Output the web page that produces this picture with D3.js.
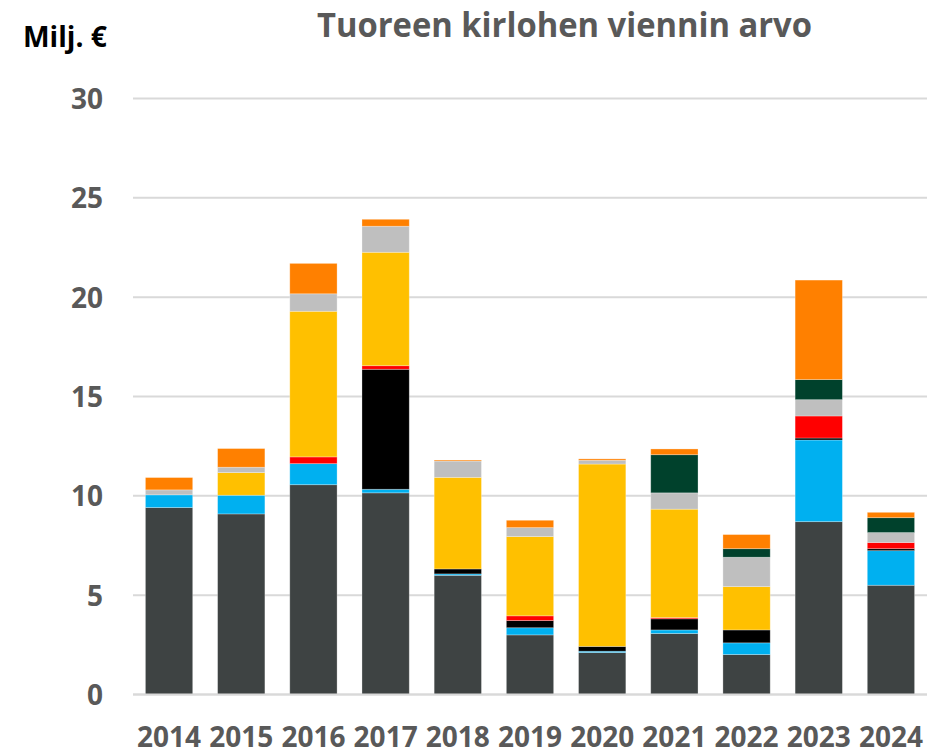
<!DOCTYPE html>
<html>
<head>
<meta charset="utf-8">
<script src="https://cdn.jsdelivr.net/npm/d3@7"></script>
<style>
  html, body { margin: 0; padding: 0; background: #fff; }
  svg { display: block; font-family: "Open Sans", "DejaVu Sans", sans-serif; }
</style>
</head>
<body>
<svg id="chart" width="947" height="752"></svg>
<script>
// ---- data (Milj. €) ----
const years = ["2014","2015","2016","2017","2018","2019","2020","2021","2022","2023","2024"];
const seriesNames = ["Sarja 1","Sarja 2","Sarja 3","Sarja 4","Sarja 5","Sarja 6","Sarja 7","Sarja 8"];
const seriesColors = ["#3E4343","#00B0F0","#000000","#FF0000","#FFC000","#BFBFBF","#00412C","#FF8000"];
const s1 = [9.41, 9.09, 10.56, 10.15, 6.00, 3.00, 2.11, 3.07, 2.01, 8.70, 5.50];
const s2 = [0.64, 0.94, 1.06, 0.18, 0.07, 0.36, 0.07, 0.18, 0.59, 4.11, 1.74];
const s3 = [0.00, 0.00, 0.00, 6.04, 0.25, 0.36, 0.24, 0.56, 0.65, 0.10, 0.10];
const s4 = [0.00, 0.00, 0.34, 0.18, 0.00, 0.24, 0.00, 0.06, 0.00, 1.11, 0.31];
const s5 = [0.00, 1.14, 7.33, 5.71, 4.61, 3.99, 9.18, 5.46, 2.18, 0.00, 0.00];
const s6 = [0.25, 0.27, 0.88, 1.31, 0.82, 0.45, 0.19, 0.82, 1.48, 0.82, 0.50];
const s7 = [0.00, 0.00, 0.00, 0.00, 0.00, 0.00, 0.00, 1.92, 0.43, 1.01, 0.75];
const s8 = [0.62, 0.94, 1.53, 0.35, 0.05, 0.37, 0.07, 0.29, 0.71, 5.01, 0.27];
const yTicks = [0, 5, 10, 15, 20, 25, 30];
const titleText = "Tuoreen kirlohen viennin arvo";
const unitText = "Milj. €";

const seriesValues = [s1, s2, s3, s4, s5, s6, s7, s8];
const table = years.map((y, i) => {
  const row = { year: y };
  seriesNames.forEach((n, k) => row[n] = seriesValues[k][i]);
  return row;
});

const svg = d3.select("#chart");
const x = d3.scaleBand().domain(years).range([133, 927]).paddingInner(0.345).paddingOuter(0.172);
const y = d3.scaleLinear().domain([0, 30]).range([694.5, 98.5]);

// gridlines
svg.append("g").selectAll("line").data(yTicks).join("line")
  .attr("x1", 133).attr("x2", 927)
  .attr("y1", d => y(d)).attr("y2", d => y(d))
  .attr("stroke", "#D9D9D9").attr("stroke-width", 2);

// y tick labels
const yAxis = d3.axisLeft(y).tickValues(yTicks).tickSize(0).tickPadding(0);
const gy = svg.append("g").attr("transform", "translate(103,0)").call(yAxis);
gy.select(".domain").remove();
gy.selectAll("text")
  .attr("font-family", "'Open Sans', sans-serif")
  .attr("font-size", 28).attr("font-weight", 700).attr("fill", "#595959")
  .attr("dy", "0.36em");

// stacked bars
const stack = d3.stack().keys(seriesNames);
const stacked = stack(table);
svg.append("g").selectAll("g").data(stacked).join("g")
  .attr("fill", (d, i) => seriesColors[i])
  .selectAll("rect").data(d => d.filter(p => p[1] - p[0] > 0)).join("rect")
  .attr("x", d => x(d.data.year))
  .attr("width", x.bandwidth())
  .attr("y", d => y(d[1]))
  .attr("height", d => y(d[0]) - y(d[1]))
  .attr("stroke", "#ffffff").attr("stroke-opacity", 0.35).attr("stroke-width", 0.8);

// x axis baseline redraw
svg.append("line").attr("x1", 133).attr("x2", 927).attr("y1", y(0)).attr("y2", y(0))
  .attr("stroke", "#D9D9D9").attr("stroke-width", 2);

// x labels
const xAxis = d3.axisBottom(x).tickSize(0).tickPadding(0);
const gx = svg.append("g").attr("transform", "translate(0,746.5)").call(xAxis);
gx.select(".domain").remove();
gx.selectAll("text")
  .attr("font-family", "'Open Sans', sans-serif")
  .attr("font-size", 28).attr("font-weight", 700).attr("fill", "#595959")
  .attr("dy", 0).attr("y", 0);

// title
svg.append("text").attr("x", 317).attr("y", 36.5)
  .attr("font-size", 34).attr("font-weight", 700).attr("fill", "#595959")
  .attr("textLength", 495).attr("lengthAdjust", "spacingAndGlyphs")
  .text(titleText);

// unit label
svg.append("text").attr("x", 23).attr("y", 47.3)
  .attr("font-size", 28).attr("font-weight", 700).attr("fill", "#000000")
  .attr("textLength", 84).attr("lengthAdjust", "spacingAndGlyphs")
  .text(unitText);
</script>
</body>
</html>
